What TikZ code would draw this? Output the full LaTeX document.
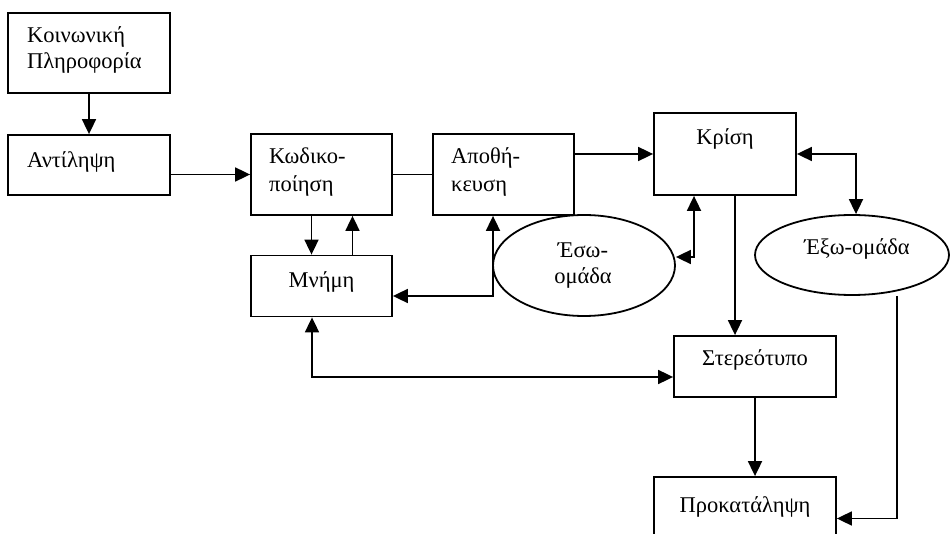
\documentclass[tikz,border=0pt]{standalone}
\usepackage{fontspec}
\setmainfont{Liberation Serif}
\usetikzlibrary{arrows.meta,shapes.geometric}
\tikzset{
  box/.style={draw, line width=1.8pt, rectangle, inner sep=0pt},
  oval/.style={draw, line width=1.8pt, ellipse, inner sep=0pt},
  txt/.style={inner sep=0pt, font=\fontsize{22.5}{27}\selectfont},
  conn/.style={line width=1.8pt},
  arr/.style={conn, -{Triangle[length=15pt,width=14pt]}},
  dbl/.style={conn, {Triangle[length=15pt,width=14pt]}-{Triangle[length=15pt,width=14pt]}},
}
\begin{document}
\begin{tikzpicture}[x=1pt,y=-1pt]
\useasboundingbox (0,0) rectangle (950,534);
\clip (0,0) rectangle (950,534);
% boxes
\node[box, minimum width=162pt, minimum height=80pt] (kp) at (89,53) {};
\node[box, minimum width=162pt, minimum height=60pt] (ant) at (89,165) {};
\node[box, minimum width=141pt, minimum height=81pt] (kod) at (321.5,174.5) {};
\node[box, minimum width=141pt, minimum height=81pt] (apo) at (503.5,174.5) {};
\node[box, minimum width=141pt, minimum height=61pt] (mnh) at (321.5,286) {};
\node[box, minimum width=142pt, minimum height=82pt] (kri) at (725,154) {};
\node[box, minimum width=162pt, minimum height=61pt] (ste) at (755,366.5) {};
\node[box, minimum width=182pt, minimum height=83pt] (pro) at (745,518.5) {};
\node[oval, minimum width=182pt, minimum height=101pt] (eso) at (584,265.5) {};
\node[oval, minimum width=194pt, minimum height=80pt] (exo) at (852,255) {};
% texts
\node[txt, anchor=base west] (t1) at (27,43) {Κοινωνική};
\node[txt, anchor=base west] (t2) at (27,69) {Πληροφορία};
\node[txt, anchor=base west] (t3) at (27,168) {Αντίληψη};
\node[txt, anchor=base west] (t4) at (269,164) {Κωδικο-};
\node[txt, anchor=base west] (t5) at (269,192) {ποίηση};
\node[txt, anchor=base west] (t6) at (451,164) {Αποθή-};
\node[txt, anchor=base west] (t7) at (451,192) {κευση};
\node[txt, anchor=base] (t8) at (725,145) {Κρίση};
\node[txt, anchor=base] (t9) at (321.5,288) {Μνήμη};
\node[txt, anchor=base] (t10) at (583,258) {Έσω-};
\node[txt, anchor=base] (t11) at (583,284) {ομάδα};
\node[txt, anchor=base] (t12) at (857,255) {Έξω-ομάδα};
\node[txt, anchor=base] (t13) at (755,366) {Στερεότυπο};
\node[txt, anchor=base] (t14) at (745,512) {Προκατάληψη};
% connectors
\draw[arr] (kp.south) -- (ant.north);
\draw[arr] (ant.east |- kod.west) -- (kod.west);
\draw[conn] (kod.east) -- (apo.west);
\draw[arr] (apo.east |- kri.west) -- (kri.west);
\draw[arr] ([xshift=-10pt]kod.south) -- ([xshift=-10pt]kod.south |- mnh.north);
\draw[arr] ([xshift=31pt]mnh.north) -- ([xshift=31pt]mnh.north |- kod.south);
\draw[dbl] ([yshift=-10pt]mnh.east) -| ([xshift=-10.5pt]apo.south);
\coordinate (c1) at (694,257);
\draw[dbl] (kri.south -| c1) |- (eso.east |- c1);
\draw[dbl] (kri.east) -| ([xshift=4pt]exo.north);
\draw[arr] ([xshift=10pt]kri.south) -- ([xshift=10pt]kri.south |- ste.north);
\draw[dbl] ([xshift=-9.5pt]mnh.south) |- ([yshift=-10.5pt]ste.west);
\draw[arr] (ste.south) -- (ste.south |- pro.north);
\draw[arr] ([xshift=45pt]exo.south) |- (pro.east);
\end{tikzpicture}
\end{document}
